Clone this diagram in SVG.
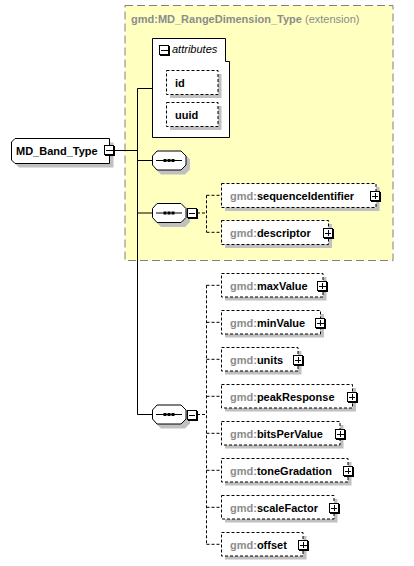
<svg xmlns="http://www.w3.org/2000/svg" xmlns:xlink="http://www.w3.org/1999/xlink" width="414" height="566" viewBox="0 0 414 566">
<style>
text{font-family:"Liberation Sans",Arial,sans-serif;font-size:11px;font-weight:bold;fill:#000}
.ns{fill:#8c8c8c}
.it{font-style:italic;font-weight:normal}
.reg{font-weight:normal}
.box{fill:#fff;stroke:#000;stroke-width:1}
.dbox{fill:#fff;stroke:#000;stroke-width:1;stroke-dasharray:3,2}
.sh{fill:#c0c0c0;stroke:none}
.ln{fill:none;stroke:#000;stroke-width:1}
.dl{fill:none;stroke:#000;stroke-width:1;stroke-dasharray:3,2}
</style>
<defs>
<g id="plus" shape-rendering="crispEdges">
<rect x="0.5" y="0.5" width="9" height="9" fill="#fff" stroke="#000"/>
<path d="M10.5,1 V10.5 H1" fill="none" stroke="#000"/>
<path d="M2,5.5 H8.5 M5.5,2 V8.5" fill="none" stroke="#000"/>
</g>
<g id="minus" shape-rendering="crispEdges">
<rect x="0.5" y="0.5" width="9" height="9" fill="#fff" stroke="#000"/>
<path d="M10.5,1 V10.5 H1" fill="none" stroke="#000"/>
<path d="M2,5.5 H8.5" fill="none" stroke="#000"/>
</g>
<g id="seq">
<path d="M9,4 H33 L38,9 V19 L33,24 H9 L4,19 V9 Z" class="sh"/>
<path d="M5,0.5 H29 L34,5.5 V14.5 L29,19.5 H5 L0.5,14.5 V5.5 Z" class="box"/>
<path d="M4,10 H30" class="ln"/>
<rect x="11.5" y="8.5" width="3" height="3"/>
<rect x="15.5" y="8.5" width="3" height="3"/>
<rect x="19.5" y="8.5" width="3" height="3"/>
</g>
</defs>

<g id="extension">
<rect x="125" y="5.5" width="268" height="255" fill="#ffffc0" stroke="#808080" stroke-dasharray="8,4"/>
<text x="131" y="23" class="ns">gmd:MD_RangeDimension_Type<tspan class="reg"> (extension)</tspan></text>
</g>

<g id="connectors">
<path d="M114.5,150.5 H137.5 M137.5,88.5 V414.5 M137.5,88.5 H152.5 M137.5,160.5 H152 M137.5,213 H152 M137.5,414.5 H152" class="ln"/>
<path d="M197,213 H206.5 M206.5,195.3 V232.3 M206.5,195.3 H221 M206.5,232.3 H221" class="dl"/>
<path d="M197,414.5 H206.5 M206.5,285.3 V544.3 M206.5,285.3 H221 M206.5,322.3 H221 M206.5,359.3 H221 M206.5,396.3 H221 M206.5,433.3 H221 M206.5,470.3 H221 M206.5,507.3 H221 M206.5,544.3 H221" class="dl"/>
</g>

<g id="MD_Band_Type">
<path d="M19,142.5 H113.5 V167.5 H19 L15.5,164 V146 Z" class="sh"/>
<path d="M15,138.5 H109.5 V163.5 H15 L11.5,160 V142 Z" class="box"/>
<text x="16" y="155">MD_Band_Type</text>
<use xlink:href="#minus" x="104" y="145"/>
</g>

<g id="attributes">
<path d="M152.5,38.5 H225.5 V61.5 H229.5 V137.5 H152.5 Z" class="box"/>
<use xlink:href="#minus" x="159" y="45"/>
<text x="172" y="53" class="it">attributes</text>
</g>
<g id="id">
<rect x="170" y="74" width="51.5" height="24" class="sh"/>
<rect x="166.5" y="70.5" width="51.5" height="24" class="dbox"/>
<text x="175" y="86.5">id</text>
</g>
<g id="uuid">
<rect x="170" y="106" width="51.5" height="24" class="sh"/>
<rect x="166.5" y="102.5" width="51.5" height="24" class="dbox"/>
<text x="175" y="118.5">uuid</text>
</g>

<g id="sequence1"><use xlink:href="#seq" x="152" y="150.5"/></g>
<g id="sequence2"><use xlink:href="#seq" x="152" y="203"/><use xlink:href="#minus" x="186.5" y="208"/></g>
<g id="sequence3"><use xlink:href="#seq" x="152" y="404.5"/><use xlink:href="#minus" x="186.5" y="409.5"/></g>

<g id="sequenceIdentifier">
<rect x="225" y="187" width="154.5" height="24" class="sh"/>
<rect x="221.5" y="183.5" width="154.5" height="24" class="dbox"/>
<text x="230" y="199.5"><tspan class="ns">gmd:</tspan>sequenceIdentifier</text>
<use xlink:href="#plus" x="369.5" y="190.5"/>
</g>
<g id="descriptor">
<rect x="225" y="224" width="107" height="24" class="sh"/>
<rect x="221.5" y="220.5" width="107" height="24" class="dbox"/>
<text x="230" y="236.5"><tspan class="ns">gmd:</tspan>descriptor</text>
<use xlink:href="#plus" x="322.5" y="227.5"/>
</g>

<g id="maxValue">
<rect x="225" y="277" width="101.5" height="23.5" class="sh"/>
<rect x="221.5" y="273.5" width="101.5" height="23.5" class="dbox"/>
<text x="230" y="289.5"><tspan class="ns">gmd:</tspan>maxValue</text>
<use xlink:href="#plus" x="317" y="280.5"/>
</g>
<g id="minValue">
<rect x="225" y="314" width="99" height="23.5" class="sh"/>
<rect x="221.5" y="310.5" width="99" height="23.5" class="dbox"/>
<text x="230" y="326.5"><tspan class="ns">gmd:</tspan>minValue</text>
<use xlink:href="#plus" x="315" y="317.5"/>
</g>
<g id="units">
<rect x="225" y="351" width="76.5" height="23.5" class="sh"/>
<rect x="221.5" y="347.5" width="76.5" height="23.5" class="dbox"/>
<text x="230" y="363.5"><tspan class="ns">gmd:</tspan>units</text>
<use xlink:href="#plus" x="292.5" y="354.5"/>
</g>
<g id="peakResponse">
<rect x="225" y="388" width="131" height="23.5" class="sh"/>
<rect x="221.5" y="384.5" width="131" height="23.5" class="dbox"/>
<text x="230" y="400.5"><tspan class="ns">gmd:</tspan>peakResponse</text>
<use xlink:href="#plus" x="346.5" y="391.5"/>
</g>
<g id="bitsPerValue">
<rect x="225" y="425" width="118.5" height="23.5" class="sh"/>
<rect x="221.5" y="421.5" width="118.5" height="23.5" class="dbox"/>
<text x="230" y="437.5"><tspan class="ns">gmd:</tspan>bitsPerValue</text>
<use xlink:href="#plus" x="335" y="428.5"/>
</g>
<g id="toneGradation">
<rect x="225" y="462" width="126.5" height="23.5" class="sh"/>
<rect x="221.5" y="458.5" width="126.5" height="23.5" class="dbox"/>
<text x="230" y="474.5"><tspan class="ns">gmd:</tspan>toneGradation</text>
<use xlink:href="#plus" x="342.5" y="465.5"/>
</g>
<g id="scaleFactor">
<rect x="225" y="499" width="112.5" height="23.5" class="sh"/>
<rect x="221.5" y="495.5" width="112.5" height="23.5" class="dbox"/>
<text x="230" y="511.5"><tspan class="ns">gmd:</tspan>scaleFactor</text>
<use xlink:href="#plus" x="328.5" y="502.5"/>
</g>
<g id="offset">
<rect x="225" y="536" width="81.5" height="23.5" class="sh"/>
<rect x="221.5" y="532.5" width="81.5" height="23.5" class="dbox"/>
<text x="230" y="548.5"><tspan class="ns">gmd:</tspan>offset</text>
<use xlink:href="#plus" x="298" y="539.5"/>
</g>
</svg>
